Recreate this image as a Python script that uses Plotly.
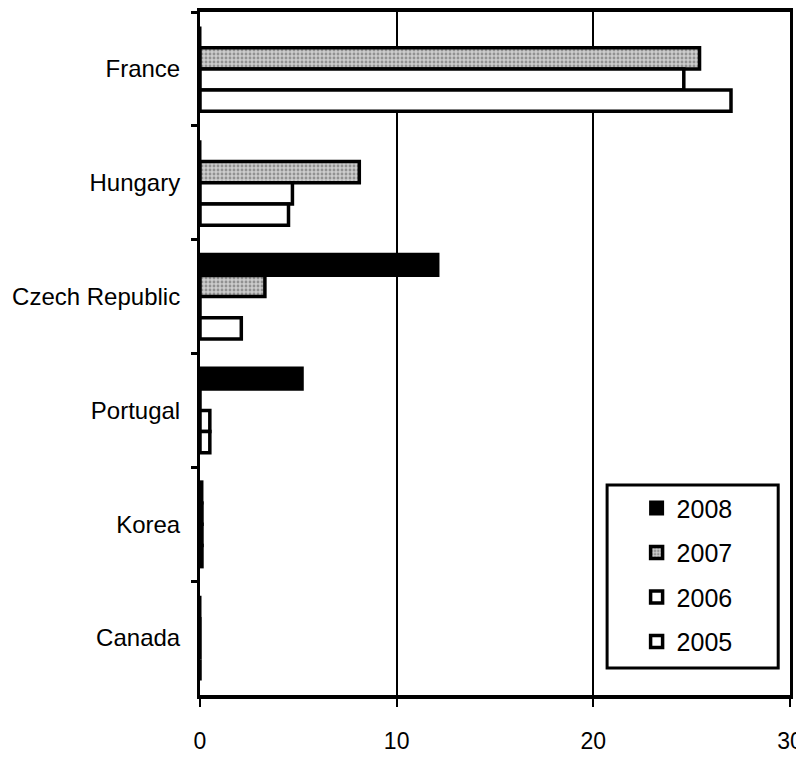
import plotly.graph_objects as go

countries = ["France", "Hungary", "Czech Republic", "Portugal", "Korea", "Canada"]
years = ["2008", "2007", "2006", "2005"]
v2008 = [0, 0, 12.1, 5.2, 0.1, 0]
v2007 = [25.4, 8.1, 3.3, 0, 0.1, 0]
v2006 = [24.6, 4.7, 0, 0.5, 0.1, 0]
v2005 = [27.0, 4.5, 2.1, 0.5, 0.1, 0]
x_ticks = [0, 10, 20, 30]

FONT = "Liberation Sans, Arial, sans-serif"

series = [v2008, v2007, v2006, v2005]
styles = [
    dict(color="black", line=dict(color="black", width=3)),
    dict(color="#c4c4c4", line=dict(color="black", width=3.5),
         pattern=dict(shape=".", fgcolor="#555555", bgcolor="#cccccc", size=4, solidity=0.4)),
    dict(color="white", line=dict(color="black", width=3.5)),
    dict(color="white", line=dict(color="black", width=3.5)),
]

fig = go.Figure()
for yr, vals, st in zip(years, series, styles):
    fig.add_trace(go.Bar(
        y=countries, x=vals, name=yr, orientation="h",
        marker=st, legendgroup=yr,
    ))

fig.update_layout(
    width=796, height=745,
    margin=dict(l=192, r=14, t=4, b=58, autoexpand=False),
    paper_bgcolor="white", plot_bgcolor="white",
    barmode="group", bargap=0.255, bargroupgap=0,
    font=dict(family=FONT, color="black", size=24),
    showlegend=True,
    legend=dict(
        x=0.74, y=0.307, xanchor="left", yanchor="top",
        bgcolor="rgba(0,0,0,0)", borderwidth=0,
        font=dict(family=FONT, size=25, color="black"),
        traceorder="grouped", tracegroupgap=9,
    ),
    shapes=[dict(type="rect", xref="paper", yref="paper",
                 x0=0.690, x1=0.980, y0=0.0395, y1=0.3075,
                 line=dict(color="black", width=3), fillcolor="rgba(0,0,0,0)")],
)

fig.update_xaxes(
    range=[0, 30], tickvals=x_ticks, ticktext=[str(t) for t in x_ticks],
    showgrid=True, gridcolor="black", gridwidth=2, zeroline=False,
    showline=True, linecolor="black", linewidth=4, mirror=True,
    ticks="outside", ticklen=8, tickwidth=2, tickcolor="black",
    ticklabelstandoff=14, automargin=False, ticklabeloverflow="allow",
    tickfont=dict(family=FONT, size=23, color="black"),
)
fig.update_yaxes(
    categoryorder="array", categoryarray=countries, autorange="reversed",
    showline=True, linecolor="black", linewidth=3, mirror=True,
    ticks="outside", ticklen=6, tickwidth=3, tickcolor="black",
    tickson="boundaries", showgrid=False,
    ticklabelstandoff=12, automargin=False,
    tickfont=dict(family=FONT, size=24, color="black"),
)

fig.write_html("out.html")
